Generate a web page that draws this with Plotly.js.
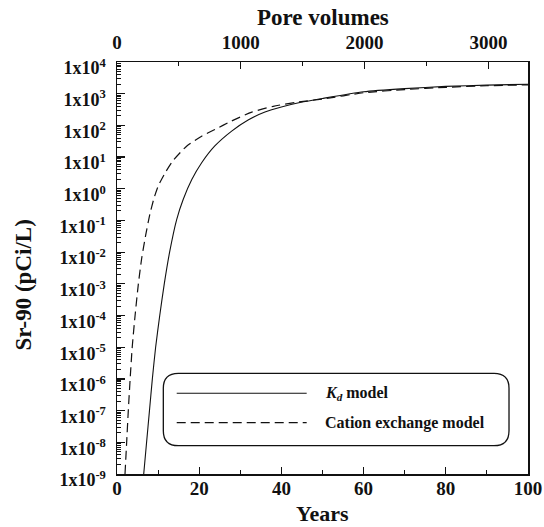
<!DOCTYPE html>
<html>
<head>
<meta charset="utf-8">
<script src="https://cdn.plot.ly/plotly-3.0.1.min.js"></script>
<style>
  html, body { margin: 0; padding: 0; background: #fff; }
  #chart { width: 544px; height: 527px; }
</style>
</head>
<body>
<div id="chart"></div>
<script>
// Sr-90 breakthrough: Kd model vs cation exchange model
const kdYears = [6.5, 7.2, 7.9, 8.6, 9.4, 10.4, 11.5, 12.8, 14.5, 16.1, 18.2, 20.6, 23.8, 27.9, 31.9, 36, 40, 44.5, 50, 60, 70, 80, 90, 100];
const kdSr90 = [1e-9, 1e-8, 1e-7, 1e-6, 1e-5, 1e-4, 1e-3, 1e-2, 0.105, 0.457, 1.95, 6.6, 22.4, 66, 148, 263, 380, 525, 708, 1148, 1445, 1700, 1862, 1995];

const cxYears = [1.95, 2.35, 2.75, 3.2, 3.7, 4.4, 5.2, 6.0, 7.0, 8.0, 9.0, 10.0, 11.7, 13.7, 17.0, 20.6, 23.8, 27.9, 32.8, 38, 43.7, 50, 60, 70, 80, 90, 100];
const cxSr90 = [1e-9, 1e-8, 1e-7, 1e-6, 1e-5, 1e-4, 1e-3, 6.3e-3, 0.0355, 0.158, 0.5, 1.2, 3.16, 7.9, 22.4, 45.7, 74, 138, 263, 398, 537, 676, 1072, 1349, 1585, 1778, 1905];

// Axis extents
const yearRange = [0, 100];
const poreVolumeRange = [0, 3320];
const sr90Range = [1e-9, 1e4];

// Concentration tick labels
const sr90TickVals = [1e-9, 1e-8, 1e-7, 1e-6, 1e-5, 1e-4, 1e-3, 1e-2, 1e-1, 1e0, 1e1, 1e2, 1e3, 1e4];
const sr90TickText = ['1x10<sup>-9</sup>', '1x10<sup>-8</sup>', '1x10<sup>-7</sup>', '1x10<sup>-6</sup>',
  '1x10<sup>-5</sup>', '1x10<sup>-4</sup>', '1x10<sup>-3</sup>', '1x10<sup>-2</sup>', '1x10<sup>-1</sup>',
  '1x10<sup>0</sup>', '1x10<sup>1</sup>', '1x10<sup>2</sup>', '1x10<sup>3</sup>', '1x10<sup>4</sup>'];

// Legend entries
const legendLabels = ['<i>K<sub>d</sub></i> model', 'Cation exchange model'];

// minor log ticks 2..9 within each decade
const minorVals = [];
for (let i = 0; i < sr90TickVals.length - 1; i++) {
  for (let m = 2; m <= 9; m++) minorVals.push(sr90TickVals[i] * m);
}

const FONT = 'Liberation Serif, Times New Roman, serif';
const INK = '#111';

const traces = [
  {
    x: kdYears, y: kdSr90, type: 'scatter', mode: 'lines',
    line: { color: INK, width: 1.1, shape: 'spline', smoothing: 0.6 },
    hoverinfo: 'skip', showlegend: false
  },
  {
    x: cxYears, y: cxSr90, type: 'scatter', mode: 'lines',
    line: { color: INK, width: 1.2, dash: '9px,5px', shape: 'spline', smoothing: 0.6 },
    hoverinfo: 'skip', showlegend: false
  },
  {
    // carrier for the pore-volume axis
    x: poreVolumeRange, y: [1, 1], xaxis: 'x2', yaxis: 'y', type: 'scatter', mode: 'lines',
    line: { width: 0 }, opacity: 0, hoverinfo: 'skip', showlegend: false
  }
];

// rounded legend frame in paper coordinates
const bx0 = 0.1127, bx1 = 0.9538, by0 = 0.0687, by1 = 0.2444;
const rx = 0.0365, ry = 0.0364;
const framePath =
  `M ${bx0 + rx},${by1} L ${bx1 - rx},${by1} Q ${bx1},${by1} ${bx1},${by1 - ry} ` +
  `L ${bx1},${by0 + ry} Q ${bx1},${by0} ${bx1 - rx},${by0} ` +
  `L ${bx0 + rx},${by0} Q ${bx0},${by0} ${bx0},${by0 + ry} ` +
  `L ${bx0},${by1 - ry} Q ${bx0},${by1} ${bx0 + rx},${by1} Z`;

const legendRowY = [0.1959, 0.1245];
const sampleX = [0.1453, 0.4615];
const labelX = 0.502;

const shapes = [
  { type: 'path', xref: 'paper', yref: 'paper', path: framePath, line: { color: INK, width: 1.3 }, fillcolor: 'rgba(0,0,0,0)' },
  { type: 'line', xref: 'paper', yref: 'paper', x0: sampleX[0], x1: sampleX[1], y0: legendRowY[0], y1: legendRowY[0], line: { color: INK, width: 1.1 } },
  { type: 'line', xref: 'paper', yref: 'paper', x0: sampleX[0], x1: sampleX[1], y0: legendRowY[1], y1: legendRowY[1], line: { color: INK, width: 1.2, dash: '9px,5px' } }
];

const boldFont = (size) => ({ family: FONT, size: size, color: INK, weight: 'bold' });

const annotations = [
  { text: legendLabels[0], xref: 'paper', yref: 'paper', x: labelX, y: legendRowY[0], xanchor: 'left', yanchor: 'middle', showarrow: false, font: boldFont(16) },
  { text: legendLabels[1], xref: 'paper', yref: 'paper', x: labelX, y: legendRowY[1], xanchor: 'left', yanchor: 'middle', showarrow: false, font: boldFont(16) },
  { text: 'Sr-90 (pCi/L)', xref: 'paper', yref: 'paper', x: -0.228, y: 0.458, xanchor: 'center', yanchor: 'middle', textangle: -90, showarrow: false, font: boldFont(23) },
  { text: 'Pore volumes', xref: 'paper', yref: 'paper', x: 0.5, y: 1.107, xanchor: 'center', yanchor: 'middle', showarrow: false, font: boldFont(23) },
  { text: 'Years', xref: 'paper', yref: 'paper', x: 0.5, y: -0.096, xanchor: 'center', yanchor: 'middle', showarrow: false, font: boldFont(22) }
];

const layout = {
  width: 544, height: 527,
  margin: { l: 117, r: 16, t: 62, b: 53, pad: 0 },
  paper_bgcolor: '#fff', plot_bgcolor: '#fff',
  showlegend: false,
  xaxis: {
    range: yearRange, dtick: 20, tick0: 0,
    ticks: 'inside', ticklen: 7, tickwidth: 1.2, tickcolor: INK,
    minor: { dtick: 10, ticks: 'inside', ticklen: 4, tickwidth: 1.1, tickcolor: INK },
    showline: true, linewidth: 1.5, linecolor: INK, mirror: false,
    showgrid: false, zeroline: false,
    tickfont: boldFont(19), ticklabelstandoff: -3
  },
  xaxis2: {
    range: poreVolumeRange, overlaying: 'x', side: 'top', anchor: 'y',
    dtick: 1000, tick0: 0,
    ticks: 'inside', ticklen: 7, tickwidth: 1.2, tickcolor: INK,
    minor: { dtick: 500, ticks: 'inside', ticklen: 4, tickwidth: 1.1, tickcolor: INK },
    showline: true, linewidth: 1.5, linecolor: INK,
    showgrid: false, zeroline: false,
    tickfont: boldFont(19), ticklabelstandoff: 4
  },
  yaxis: {
    type: 'log', range: [Math.log10(sr90Range[0]), Math.log10(sr90Range[1])],
    tickmode: 'array', tickvals: sr90TickVals, ticktext: sr90TickText,
    ticks: 'inside', ticklen: 8, tickwidth: 1.2, tickcolor: INK,
    minor: { tickmode: 'array', tickvals: minorVals, ticks: 'inside', ticklen: 4, tickwidth: 1, tickcolor: INK },
    showline: true, linewidth: 1.5, linecolor: INK, mirror: true,
    showgrid: false, zeroline: false,
    tickfont: boldFont(18), ticklabelstandoff: 6, ticklabelshift: 6
  },
  shapes: shapes,
  annotations: annotations
};

Plotly.newPlot('chart', traces, layout, { staticPlot: true, displayModeBar: false });
</script>
</body>
</html>
